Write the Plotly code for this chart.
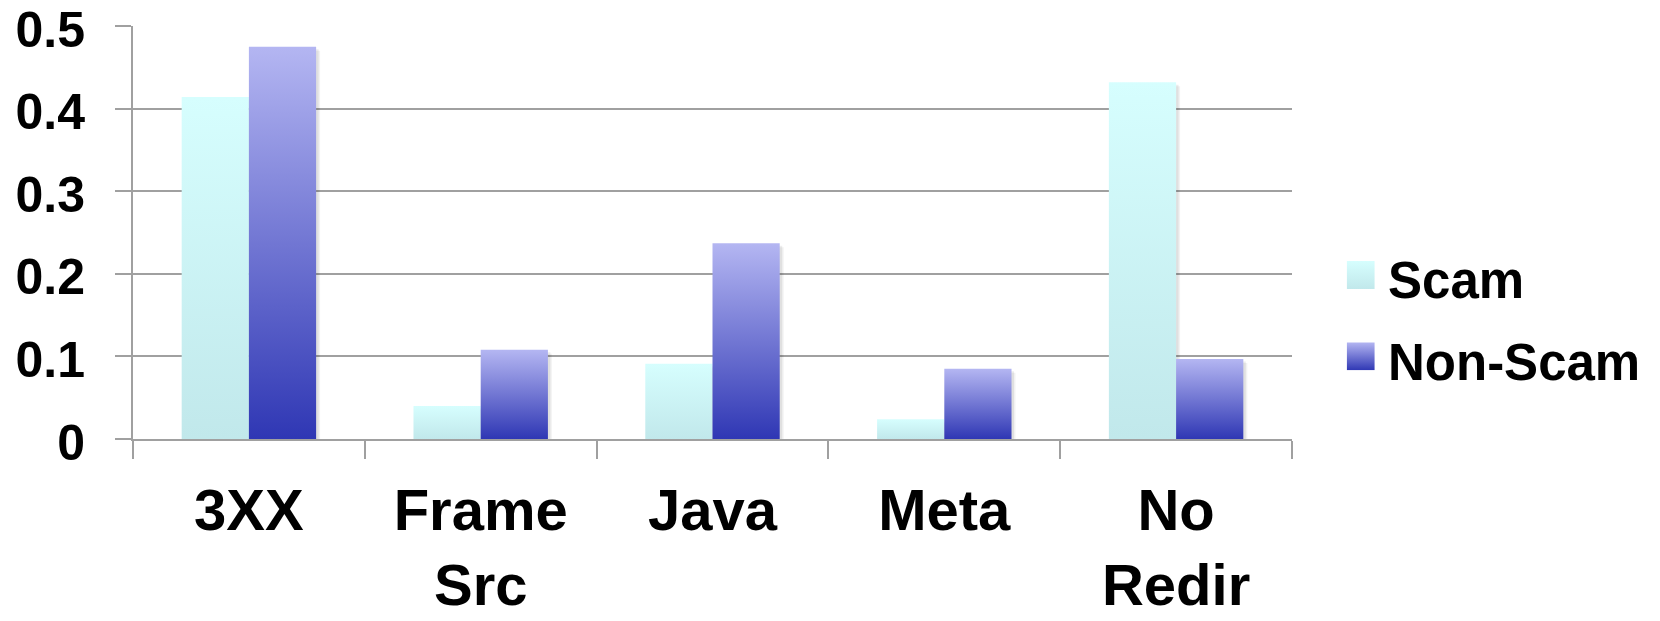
import base64
import plotly.graph_objects as go

# Share of redirection types per page class
categories = ["3XX", "Frame Src", "Java", "Meta", "No Redir"]
tick_labels = ["3XX", "Frame<br>Src", "Java", "Meta", "No<br>Redir"]
scam = [0.414, 0.040, 0.091, 0.024, 0.432]
non_scam = [0.475, 0.108, 0.237, 0.085, 0.097]
y_ticks = [0, 0.1, 0.2, 0.3, 0.4, 0.5]
y_tick_labels = ["0", "0.1", "0.2", "0.3", "0.4", "0.5"]
series_names = ["Scam", "Non-Scam"]

# (bottom colour, top colour) of each series' vertical gradient
GRADIENTS = {"Scam": ("#C1E8EB", "#D6FEFE"), "Non-Scam": ("#2F37B4", "#B4B6F2")}
BAR_W = 0.29          # bar width in category units
GRID = "#A0A0A0"
FONT = "Liberation Sans, Arial, Helvetica, sans-serif"
Y_MAX = 0.5

# plot area size in px, used to express the soft shadow offset in data units
PLOT_W, PLOT_H = 1660 - 133 - 368, 621 - 26 - 182
px_x = len(categories) / PLOT_W
px_y = Y_MAX / PLOT_H

fig = go.Figure()


def bar_outline(i, k, v, dx=0.0, dy=0.0):
    x0 = i + (k - 1) * BAR_W + dx
    x1 = x0 + BAR_W
    return [x0, x0, x1, x1, x0], [-dy, v - dy, v - dy, -dy, -dy]


# soft drop shadow behind the bars
for offset, alpha in [(4, 0.05), (2.5, 0.07)]:
    for k, values in enumerate([scam, non_scam]):
        for i, v in enumerate(values):
            xs, ys = bar_outline(i, k, v, offset * px_x, offset * px_y)
            fig.add_trace(go.Scatter(
                x=xs, y=ys, mode="lines", line=dict(width=0),
                fill="toself", fillcolor=f"rgba(0,0,0,{alpha})",
                hoverinfo="skip", showlegend=False,
            ))

for k, (name, values) in enumerate(zip(series_names, [scam, non_scam])):
    bottom, top = GRADIENTS[name]
    for i, v in enumerate(values):
        xs, ys = bar_outline(i, k, v)
        fig.add_trace(go.Scatter(
            x=xs, y=ys,
            mode="lines", line=dict(width=0, color=top),
            fill="toself",
            fillgradient=dict(type="vertical",
                              colorscale=[[0, bottom], [1, top]]),
            name=name, legendgroup=name, showlegend=False,
            hoveron="fills", hoverinfo="text",
            text=f"{name} – {categories[i]}: {v}",
        ))


def gradient_swatch(bottom, top):
    svg = (
        '<svg xmlns="http://www.w3.org/2000/svg" width="10" height="10" '
        'viewBox="0 0 10 10" preserveAspectRatio="none"><defs>'
        '<linearGradient id="g" x1="0" y1="0" x2="0" y2="1">'
        f'<stop offset="0" stop-color="{top}"/><stop offset="1" stop-color="{bottom}"/>'
        '</linearGradient></defs><rect width="10" height="10" fill="url(#g)"/></svg>'
    )
    return "data:image/svg+xml;base64," + base64.b64encode(svg.encode()).decode()


# Legend built from gradient swatches and labels
legend_rows = [(0.431, 0.3833), (0.2341, 0.1852)]
for name, (sw_y, txt_y) in zip(series_names, legend_rows):
    bottom, top = GRADIENTS[name]
    fig.add_layout_image(dict(
        source=gradient_swatch(bottom, top), xref="paper", yref="paper",
        x=1.0472, y=sw_y, sizex=0.0242, sizey=0.0678, sizing="stretch",
        xanchor="left", yanchor="top", layer="above",
    ))
    fig.add_annotation(
        text=name, xref="paper", yref="paper", x=1.0815, y=txt_y,
        xanchor="left", yanchor="middle", showarrow=False,
        font=dict(family=FONT, size=51, color="black", weight="bold"),
    )

fig.update_xaxes(
    range=[-0.5, 4.5], tickvals=list(range(len(categories))), ticktext=tick_labels,
    ticks="", showgrid=False, zeroline=False, automargin=False,
    showline=True, linecolor=GRID, linewidth=2,
    minor=dict(tickvals=[i - 0.5 for i in range(len(categories) + 1)],
               ticks="outside", ticklen=18, tickwidth=2, tickcolor=GRID, showgrid=False),
    tickfont=dict(family=FONT, size=58, color="black", weight="bold"),
    ticklabelstandoff=19, ticklabeloverflow="allow",
)
fig.update_yaxes(
    range=[0, Y_MAX], tickvals=y_ticks, ticktext=y_tick_labels,
    ticks="outside", ticklen=16, tickwidth=2, tickcolor=GRID,
    showgrid=True, gridcolor=GRID, gridwidth=2, zeroline=False, automargin=False,
    showline=True, linecolor=GRID, linewidth=2,
    tickfont=dict(family=FONT, size=50, color="black", weight="bold"),
    ticklabelstandoff=20, ticklabelshift=3, ticklabeloverflow="allow",
)

fig.update_layout(
    width=1660, height=621, autosize=False,
    margin=dict(l=133, r=368, t=26, b=182),
    plot_bgcolor="white", paper_bgcolor="white",
    showlegend=False,
)

fig.write_html("out.html")
